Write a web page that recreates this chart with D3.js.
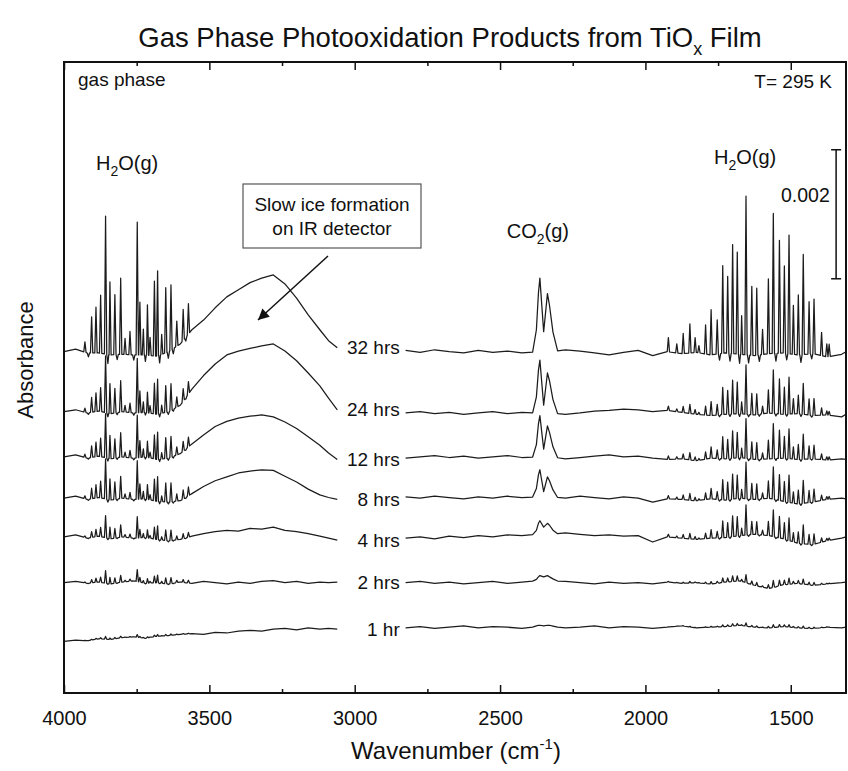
<!DOCTYPE html>
<html>
<head>
<meta charset="utf-8">
<script src="https://cdn.jsdelivr.net/npm/d3@7"></script>
<style>
  body { margin: 0; background: #fff; }
  text { font-family: "Liberation Sans", Arial, sans-serif; fill: #111; }
  .axis path { display: none; }
  .axis line { stroke: #111; stroke-width: 1.5; }
  .axis text { font-size: 20px; font-family: "Liberation Sans", Arial, sans-serif; fill: #111; }
  .trace { fill: none; stroke: #1c1c1c; stroke-width: 1.25; stroke-linejoin: round; }
</style>
</head>
<body>
<script>
// all absorbance values are in units of 1e-5
var hours = ["1 hr", "2 hrs", "4 hrs", "8 hrs", "12 hrs", "24 hrs", "32 hrs"];
var offsets = [80, 171, 242, 302, 366, 436, 529];

var xMajor = [4000, 3500, 3000, 2500, 2000, 1500];
var xMinor = [3750, 3250, 2750, 2250, 1750];

// baseline left of the gap (ice band region), relative to offset
var leftGrid = [4000, 3960, 3920, 3880, 3840, 3800, 3760, 3720, 3680, 3640, 3600, 3560, 3520,
                3480, 3440, 3400, 3360, 3320, 3280, 3240, 3200, 3160, 3120, 3090, 3060];
var leftBase1 = [0, 2, 1, 4, 3, 6, 7, 5, 8, 9, 11, 12, 11, 14, 13, 16, 17, 16, 19, 20, 18, 21, 19, 20, 19];
var leftBase2 = [0, 2, -1, 1, -2, 1, 3, -1, 0, -2, 1, -1, 2, 0, -2, 1, -1, 2, 3, 0, 2, -1, 1, 0, 1];
var leftBase4 = [0, 3, -2, 1, -3, 0, -2, -1, -4, -6, -4, 1, 5, 8, 10, 9, 13, 12, 15, 10, 8, 5, 1, -2, -5];
var leftBase8 = [0, 3, -2, 1, -3, 0, -2, -1, -5, -6, -4, 7, 18, 27, 33, 39, 42, 44, 43, 34, 25, 14, 5, 1, -2];
var leftBase12 = [0, 3, -2, 1, -3, 0, -2, 0, -4, -2, 5, 20, 34, 47, 55, 60, 63, 65, 62, 54, 44, 31, 18, 6, -4];
var leftBase24 = [0, 3, -2, 1, -3, 0, -2, -1, -4, 0, 10, 35, 56, 74, 88, 94, 98, 102, 105, 94, 79, 60, 40, 21, 3];
var leftBase32 = [0, 4, -2, -2, -5, -4, -5, -5, -7, 0, 12, 34, 49, 68, 85, 96, 107, 114, 119, 105, 83, 57, 34, 17, 6];

// baseline right of the gap, relative to offset
var rightGrid = [2825, 2775, 2725, 2675, 2625, 2575, 2525, 2475, 2425, 2375, 2325, 2275, 2225, 2175, 2125, 2075,
                 2025, 1975, 1925, 1875, 1825, 1775, 1725, 1675, 1625, 1575, 1525, 1475, 1425, 1375, 1325, 1310];
var rightBase1 = [21, 23, 20, 22, 24, 21, 23, 22, 20, 23, 23, 21, 22, 24, 21, 23, 22, 20, 22, 24, 21, 22, 23, 25, 22, 21, 23, 21, 20, 22, 21, 22];
var rightBase2 = [0, 2, -1, 1, -2, 0, 2, -1, 1, 3, 3, 2, 0, -2, 1, -1, 0, -2, 1, -1, 0, -2, 1, 3, -4, -9, -3, -1, -4, -2, 0, 1];
var rightBase4 = [-2, 0, -3, 1, -1, 2, 0, 3, 2, 4, 4, 6, 4, 2, 3, 1, 2, -8, 0, -2, -4, -2, -1, 2, 4, 2, -3, -10, -12, -6, -2, 0];
var rightBase8 = [2, 0, 3, 1, -1, 2, 0, 3, 1, 2, 2, 0, 3, 1, -1, 2, 0, -6, -1, -2, -4, -1, -3, 0, -2, 0, -5, -9, -6, -2, 0, -1];
var rightBase12 = [-2, 0, 2, -1, 1, -2, 0, 2, -1, 0, 0, -3, -1, 1, 3, 0, 1, -2, -4, -3, -6, -2, -3, -1, -4, -3, -2, -4, -3, -5, -3, -4];
var rightBase24 = [-2, 0, -3, -1, -4, -2, 0, -3, -1, -2, -2, -4, -2, 1, 2, 4, 3, 0, 2, -1, -4, -6, -4, -3, -5, -2, -4, -3, -6, -5, -8, -4];
var rightBase32 = [2, -1, 3, 0, -2, 2, -1, 1, -2, 0, 0, 3, 1, -2, -5, -1, 2, -6, 0, -3, -1, -5, -2, -4, -6, -3, -2, -5, -3, -8, -4, 0];

// water vapour lines, heights as seen in the 32 hrs spectrum
var h2oStretch = [[3928, 16], [3916, -6], [3905, 56], [3890, 71], [3874, 90], [3857, 214], [3849, -14],
  [3842, 113], [3825, 93], [3817, -8], [3805, 118], [3790, 25], [3773, 36], [3760, -8], [3748, 206],
  [3739, 82], [3727, 40], [3720, -10], [3713, 78], [3704, 28], [3689, 116], [3678, 132], [3671, -12],
  [3664, 31], [3650, 101], [3641, -10], [3632, 101], [3624, -8], [3612, 39], [3590, 48], [3581, -6], [3572, 47]];
var h2oBend = [[1921, 22], [1892, 14], [1870, 31], [1847, 45], [1829, 23], [1816, 11], [1793, 45], [1774, 70],
  [1753, 53], [1745, -10], [1734, 136], [1717, 119], [1709, -12], [1700, 169], [1684, 158], [1676, -14],
  [1669, 60], [1654, 246], [1645, -12], [1634, 107], [1617, 104], [1608, -10], [1597, 39], [1577, 116],
  [1560, 217], [1551, -12], [1539, 175], [1522, 135], [1514, -10], [1506, 184], [1491, 76], [1474, 93],
  [1465, -12], [1457, 155], [1437, 81], [1428, -8], [1420, 85], [1394, 36], [1376, 20], [1368, 19]];
var h2oScaleLeft = [0.02, 0.09, 0.16, 0.29, 0.32, 0.41, 1];
var h2oScaleRight = [0.02, 0.05, 0.19, 0.23, 0.25, 0.31, 1];

// CO2 doublet
var co2Wn = [2388, 2375, 2368, 2363, 2350, 2337, 2330, 2318, 2302];
var co2Height = [
  [0, 1, 2, 2, 1, 2, 2, 1, 0],
  [0, 2, 6, 8, 6, 8, 6, 3, 0],
  [0, 6, 17, 21, 11, 17, 14, 6, 0],
  [0, 13, 34, 42, 8, 31, 25, 11, 0],
  [0, 19, 51, 64, 12, 48, 38, 16, 0],
  [0, 25, 66, 82, 12, 62, 50, 21, 0],
  [0, 34, 91, 114, 31, 90, 72, 30, 0]
];

var leftBase = [leftBase1, leftBase2, leftBase4, leftBase8, leftBase12, leftBase24, leftBase32];
var rightBase = [rightBase1, rightBase2, rightBase4, rightBase8, rightBase12, rightBase24, rightBase32];

var margin = {top: 62, right: 2, bottom: 78, left: 64};
var width = 848 - margin.left - margin.right,
    height = 771 - margin.top - margin.bottom;

var xScale = d3.scaleLinear().domain([4000, 1310]).range([0, width]);
var yScale = d3.scaleLinear().domain([0, 978]).range([height, 0]);

var root = d3.select("body").append("svg")
    .attr("width", 848)
    .attr("height", 771);

root.append("defs").append("marker")
    .attr("id", "head")
    .attr("viewBox", "0 0 10 10")
    .attr("refX", 10).attr("refY", 5)
    .attr("markerWidth", 14).attr("markerHeight", 11)
    .attr("markerUnits", "userSpaceOnUse")
    .attr("orient", "auto")
  .append("path")
    .attr("d", "M0,0L10,5L0,10z")
    .attr("fill", "#111");

var svg = root.append("g")
    .attr("transform", "translate(" + margin.left + "," + margin.top + ")");

// line groups -> [wn, dA] points, feet sit on the baseline
function lineGroups(lines, k) {
  return lines.map(function(l) { return [[l[0] + 4, 0], [l[0], l[1] * k], [l[0] - 4, 0]]; });
}

function buildSegment(grid, base, offset, groups) {
  var baseline = d3.scaleLinear().domain(grid).range(base.map(function(v) { return v + offset; }));
  var pts = [];
  grid.forEach(function(w) {
    var inside = groups.some(function(g) { return w <= g[0][0] + 1 && w >= g[g.length - 1][0] - 1; });
    if (!inside) pts.push([w, baseline(w)]);
  });
  groups.forEach(function(g) {
    g.forEach(function(p) { pts.push([p[0], baseline(p[0]) + p[1]]); });
  });
  pts.sort(function(a, b) { return b[0] - a[0]; });
  return pts;
}

var line = d3.line()
    .x(function(d) { return xScale(d[0]); })
    .y(function(d) { return yScale(d[1]); });

hours.forEach(function(h, i) {
  var left = buildSegment(leftGrid, leftBase[i], offsets[i], lineGroups(h2oStretch, h2oScaleLeft[i]));
  var co2 = [co2Wn.map(function(w, j) { return [w, co2Height[i][j]]; })];
  var right = buildSegment(rightGrid, rightBase[i], offsets[i], co2.concat(lineGroups(h2oBend, h2oScaleRight[i])));

  svg.append("path").attr("class", "trace").attr("d", line(left));
  svg.append("path").attr("class", "trace").attr("d", line(right));

  svg.append("text")
      .attr("x", xScale(2845))
      .attr("y", yScale(left[left.length - 1][1]))
      .attr("dy", "0.35em")
      .attr("text-anchor", "end")
      .style("font-size", "19px")
      .text(h);
});

// axes
svg.append("g")
    .attr("class", "x axis")
    .attr("transform", "translate(0," + height + ")")
    .call(d3.axisBottom(xScale).tickValues(xMajor).tickSize(-8).tickPadding(18).tickFormat(d3.format("d")));
svg.append("g")
    .attr("class", "x axis")
    .attr("transform", "translate(0," + height + ")")
    .call(d3.axisBottom(xScale).tickValues(xMinor).tickSize(-4).tickFormat(""));
svg.append("g")
    .attr("class", "x axis")
    .call(d3.axisTop(xScale).tickValues(xMajor).tickSize(-8).tickFormat(""));
svg.append("g")
    .attr("class", "x axis")
    .call(d3.axisTop(xScale).tickValues(xMinor).tickSize(-4).tickFormat(""));

svg.append("rect")
    .attr("width", width).attr("height", height)
    .attr("fill", "none").attr("stroke", "#111").attr("stroke-width", 2);

// titles
var title = root.append("text")
    .attr("x", 450).attr("y", 47)
    .attr("text-anchor", "middle")
    .style("font-size", "27.5px")
    .text("Gas Phase Photooxidation Products from TiO");
title.append("tspan").attr("dy", 8).style("font-size", "18px").text("x");
title.append("tspan").attr("dy", -8).text(" Film");

root.append("text")
    .attr("transform", "translate(25,360) rotate(-90)")
    .attr("text-anchor", "middle")
    .attr("dy", "0.35em")
    .style("font-size", "22px")
    .text("Absorbance");

var xt = root.append("text")
    .attr("x", 456).attr("y", 759)
    .attr("text-anchor", "middle")
    .style("font-size", "24px")
    .text("Wavenumber (cm");
xt.append("tspan").attr("dy", -10).style("font-size", "15px").text("-1");
xt.append("tspan").attr("dy", 10).text(")");

// annotations
svg.append("text").attr("x", 14).attr("y", 24).style("font-size", "19px").text("gas phase");
svg.append("text").attr("x", 768).attr("y", 26).attr("text-anchor", "end").style("font-size", "19px").text("T= 295 K");

function formula(x, y, a, sub, b) {
  var t = svg.append("text").attr("x", x).attr("y", y).style("font-size", "20px").text(a);
  t.append("tspan").attr("dy", 6).style("font-size", "14px").text(sub);
  t.append("tspan").attr("dy", -6).text(b);
  return t;
}
formula(32, 108, "H", "2", "O(g)");
formula(650, 102, "H", "2", "O(g)");
formula(xScale(2360) - 34, 176, "CO", "2", "(g)");

// scale bar 0.002
var barX = xScale(1344);
var bar = svg.append("g").attr("stroke", "#111").attr("stroke-width", 1.5);
bar.append("line").attr("x1", barX).attr("x2", barX).attr("y1", yScale(642)).attr("y2", yScale(842));
bar.append("line").attr("x1", barX - 5).attr("x2", barX + 5).attr("y1", yScale(642)).attr("y2", yScale(642));
bar.append("line").attr("x1", barX - 5).attr("x2", barX + 5).attr("y1", yScale(842)).attr("y2", yScale(842));
svg.append("text").attr("x", 717).attr("y", 140).style("font-size", "19.5px").text("0.002");

// ice note
svg.append("rect")
    .attr("x", 179).attr("y", 122).attr("width", 178).attr("height", 64)
    .attr("fill", "#fff").attr("stroke", "#555").attr("stroke-width", 1.2);
svg.append("text").attr("x", 268).attr("y", 149).attr("text-anchor", "middle").style("font-size", "19px").text("Slow ice formation");
svg.append("text").attr("x", 268).attr("y", 173).attr("text-anchor", "middle").style("font-size", "19px").text("on IR detector");
svg.append("line")
    .attr("x1", 264).attr("y1", 194).attr("x2", 194).attr("y2", 258)
    .attr("stroke", "#111").attr("stroke-width", 1.5)
    .attr("marker-end", "url(#head)");
</script>
</body>
</html>
